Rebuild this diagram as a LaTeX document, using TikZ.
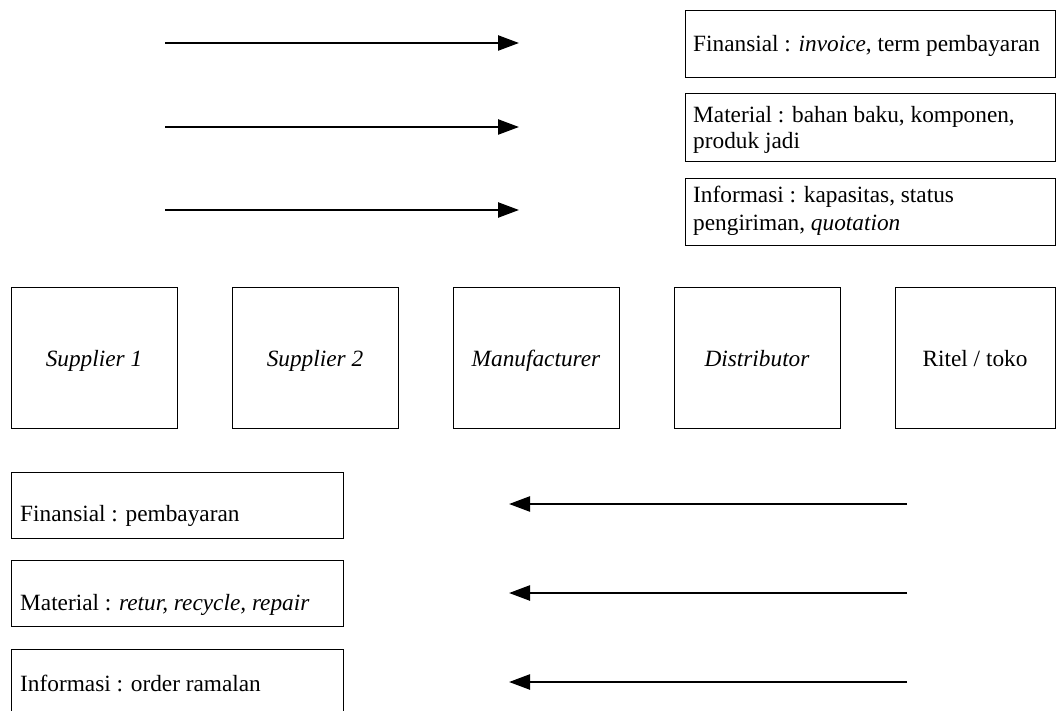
\documentclass[tikz,border=0pt]{standalone}
\usepackage{fontspec}
\setmainfont{Liberation Serif}
\usetikzlibrary{arrows.meta}
\begin{document}
\begin{tikzpicture}[x=1pt,y=-1pt,
  box/.style={draw=black, line width=0.9pt, inner sep=0pt, anchor=north west},
  actor/.style={draw=black, line width=0.9pt, inner sep=0pt, minimum width=166pt, minimum height=141pt,
     text height=17pt, text depth=0pt, font=\fontsize{23.3}{26.5}\selectfont},
  lbl/.style={inner sep=0pt, anchor=base west, font=\fontsize{23.3}{26.5}\selectfont},
  flow/.style={line width=2.4pt, -{Triangle[length=21pt,width=15pt]}}]
\clip (0,0) rectangle (1056,711);
% top-right legend boxes
\node[box, minimum width=370pt, minimum height=67pt] (fbox1) at (685,10) {};
\node[box, minimum width=370pt, minimum height=68pt] (mbox1) at (685,93) {};
\node[box, minimum width=370pt, minimum height=67pt] (ibox1) at (685,178) {};
\node[lbl] (ftext1) at (693,52) {Finansial : \textit{invoice}, term pembayaran};
\node[lbl] (mtext1a) at (693,123) {Material : bahan baku, komponen,};
\node[lbl] (mtext1b) at (693,149) {produk jadi};
\node[lbl] (itext1a) at (693,203) {Informasi : kapasitas, status};
\node[lbl] (itext1b) at (693,230) {pengiriman, \textit{quotation}};
% forward arrows
\coordinate (fa1s) at (165,43);  \coordinate (fa1e) at (519,43);
\coordinate (fa2s) at (165,127); \coordinate (fa2e) at (519,127);
\coordinate (fa3s) at (165,210); \coordinate (fa3e) at (519,210);
\draw[flow] (fa1s) -- (fa1e);
\draw[flow] (fa2s) -- (fa2e);
\draw[flow] (fa3s) -- (fa3e);
% actors
\node[actor] (sup1) at (94,357.5) {\itshape Supplier 1};
\node[actor] (sup2) at (315,357.5) {\itshape Supplier 2};
\node[actor] (manu) at (536,357.5) {\itshape Manufacturer};
\node[actor] (dist) at (757,357.5) {\itshape Distributor};
\node[actor, minimum width=160pt] (ritel) at (975,357.5) {Ritel / toko};
% bottom-left legend boxes
\node[box, minimum width=332pt, minimum height=66pt] (fbox2) at (11,472) {};
\node[box, minimum width=332pt, minimum height=66pt] (mbox2) at (11,560) {};
\node[box, minimum width=332pt, minimum height=72pt] (ibox2) at (11,649) {};
\node[lbl] (ftext2) at (20,521) {Finansial : pembayaran};
\node[lbl] (mtext2) at (20,610) {Material : \textit{retur, recycle, repair}};
\node[lbl] (itext2) at (20,691) {Informasi : order ramalan};
% backward arrows
\coordinate (ba1s) at (907,504); \coordinate (ba1e) at (509,504);
\coordinate (ba2s) at (907,593); \coordinate (ba2e) at (509,593);
\coordinate (ba3s) at (907,682); \coordinate (ba3e) at (509,682);
\draw[flow] (ba1s) -- (ba1e);
\draw[flow] (ba2s) -- (ba2e);
\draw[flow] (ba3s) -- (ba3e);
\end{tikzpicture}
\end{document}
